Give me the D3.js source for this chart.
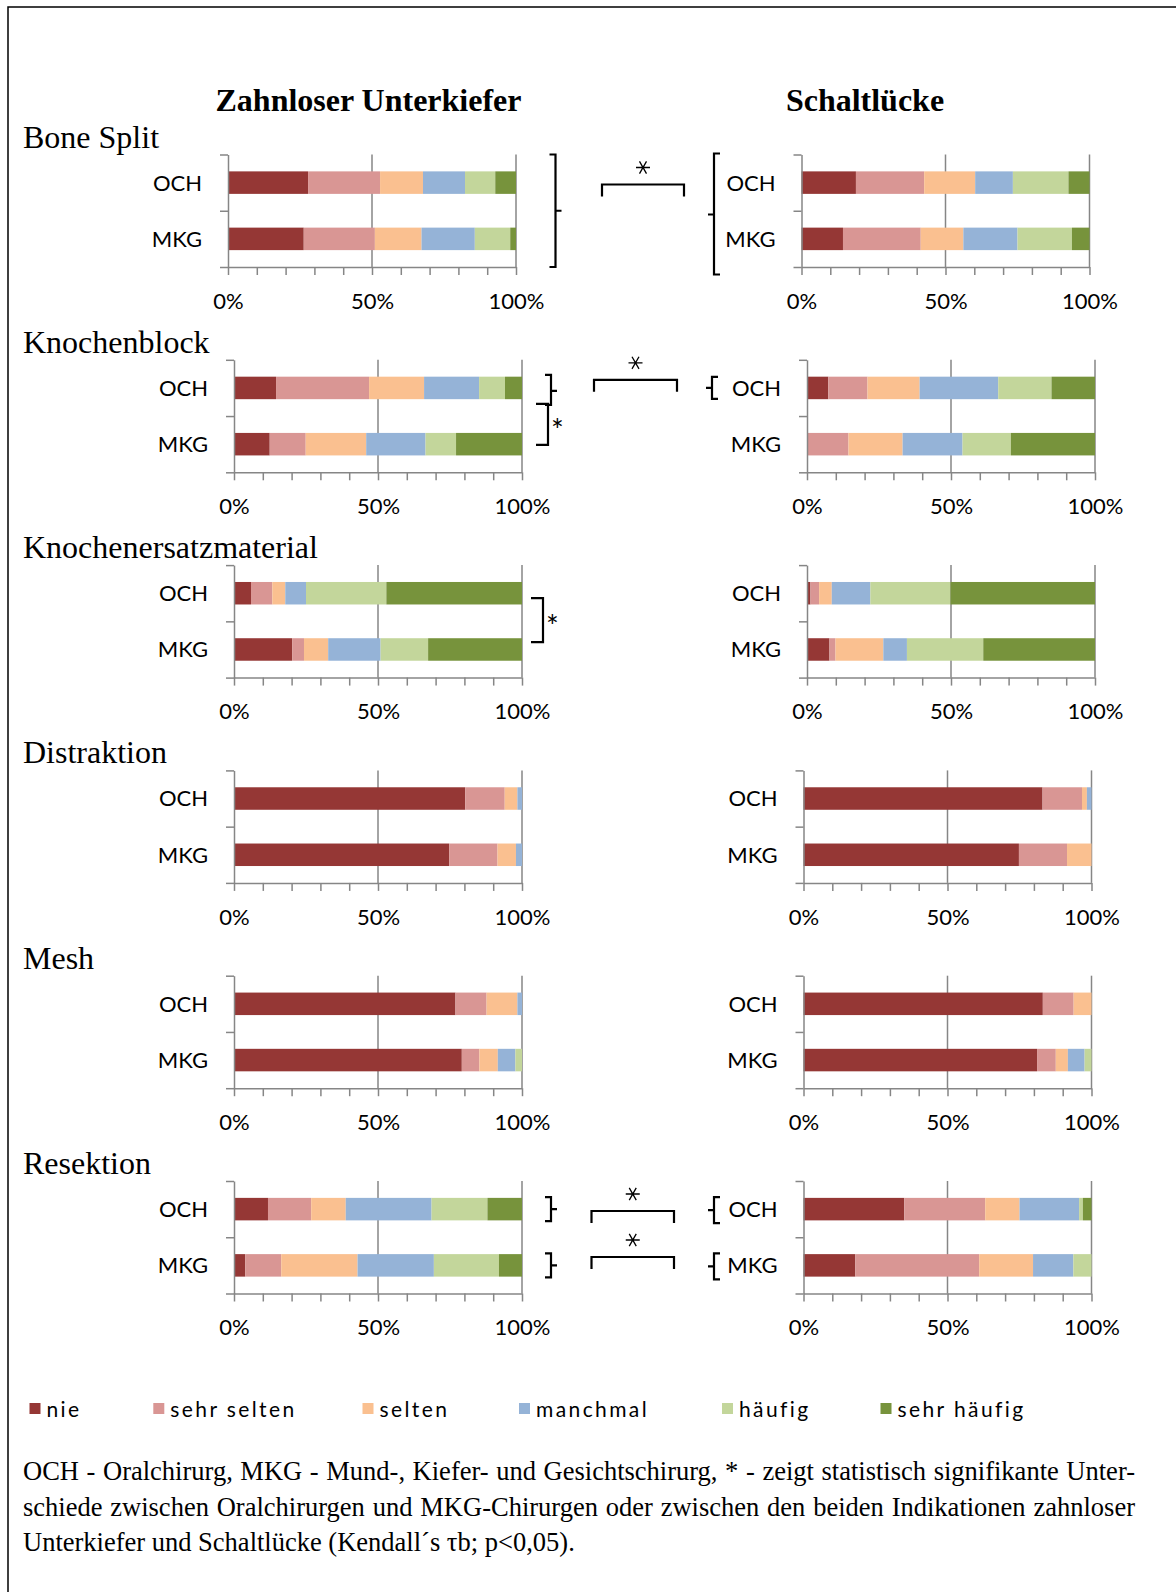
<!DOCTYPE html>
<html>
<head>
<meta charset="utf-8">
<script src="https://cdn.jsdelivr.net/npm/d3@7"></script>
<style>
  body { margin: 0; background: #fff; }
</style>
</head>
<body>
<svg id="chart" width="1176" height="1592"></svg>
<script>
// ---- data ----
const levels = ["nie", "sehr selten", "selten", "manchmal", "häufig", "sehr häufig"];
const groups = ["OCH", "MKG"];
const indications = ["Bone Split", "Knochenblock", "Knochenersatzmaterial", "Distraktion", "Mesh", "Resektion"];
const columns = ["Zahnloser Unterkiefer", "Schaltlücke"];
const tickLabels = [0, 0.5, 1];

// percentages per level (nie ... sehr häufig), one row per indication
const zahnlosOCH = [
  [27.8, 25.0, 14.9, 14.6, 10.5, 7.2],
  [14.6, 32.3, 19.1, 19.1, 9.0, 5.9],
  [5.9, 7.4, 4.5, 7.2, 27.9, 47.1],
  [80.3, 13.7, 4.4, 1.6, 0, 0],
  [76.9, 10.8, 10.7, 1.6, 0, 0],
  [11.8, 15.0, 12.0, 29.8, 19.4, 12.0]
];
const zahnlosMKG = [
  [26.3, 24.7, 16.2, 18.5, 12.3, 2.0],
  [12.4, 12.5, 21.0, 20.6, 10.6, 22.9],
  [20.2, 4.1, 8.4, 18.2, 16.5, 32.6],
  [74.7, 16.8, 6.4, 2.1, 0, 0],
  [79.1, 6.1, 6.4, 6.1, 2.3, 0],
  [3.9, 12.5, 26.5, 26.5, 22.6, 8.0]
];
const schaltOCH = [
  [18.9, 23.7, 17.7, 13.1, 19.3, 7.3],
  [7.4, 13.6, 18.1, 27.3, 18.5, 15.1],
  [1.2, 3.0, 4.4, 13.4, 27.8, 50.2],
  [83.0, 13.7, 1.7, 1.6, 0, 0],
  [83.1, 10.7, 6.2, 0, 0, 0],
  [35.0, 28.1, 11.9, 20.7, 1.3, 3.0]
];
const schaltMKG = [
  [14.4, 27.0, 14.8, 18.8, 18.9, 6.1],
  [0, 14.4, 18.8, 20.8, 16.8, 29.2],
  [7.8, 2.1, 16.6, 8.2, 26.5, 38.8],
  [74.8, 16.7, 8.5, 0, 0, 0],
  [81.1, 6.5, 4.2, 5.8, 2.4, 0],
  [18.0, 43.0, 18.7, 14.0, 6.3, 0]
];

const colors = ["#953735", "#d99694", "#fac090", "#95b3d7", "#c3d69b", "#77933c"];
const captionLines = [
  "OCH - Oralchirurg, MKG - Mund-, Kiefer- und Gesichtschirurg, * - zeigt statistisch signifikante Unter-",
  "schiede zwischen Oralchirurgen und MKG-Chirurgen oder zwischen den beiden Indikationen zahnloser",
  "Unterkiefer und Schaltlücke (Kendall´s τb; p<0,05)."
];

// ---- layout ----
const W = 1176, H = 1592;
const serif = "'Liberation Serif', 'Times New Roman', serif";
const sans = "Lato, Carlito, Calibri, sans-serif";
const axisCol = "#868686";
const plotW = 288, plotH = 112.5;
const rowTop = i => 154.5 + 205.3 * i;
const leftX0 = [228, 234, 234, 234, 234, 234];
const rightX0 = [801.5, 807, 807, 803.5, 803.5, 803.5];

const svg = d3.select("#chart");

// frame (cut off at right and bottom)
svg.append("path")
  .attr("d", `M8,${H} V7 H${W}`)
  .attr("fill", "none").attr("stroke", "#000").attr("stroke-width", 1.5);

// column titles
svg.selectAll("text.coltitle").data(columns).join("text")
  .attr("class", "coltitle")
  .attr("x", (d, i) => i ? 865 : 368.5)
  .attr("y", 110.5)
  .attr("text-anchor", "middle")
  .attr("font-family", serif).attr("font-weight", "bold").attr("font-size", 32)
  .text(d => d);

function drawPanel(g, x0, top, och, mkg) {
  const x = d3.scaleLinear().domain([0, 1]).range([x0, x0 + plotW]);
  const y = d3.scaleBand().domain(groups).range([top, top + plotH])
    .paddingInner(0.6).paddingOuter(0.3);
  const yAx = d3.scaleLinear().domain([0, groups.length]).range([top, top + plotH]);

  const rows = groups.map((grp, k) => {
    const o = { group: grp };
    levels.forEach((l, j) => { o[l] = (k ? mkg : och)[j]; });
    return o;
  });
  const series = d3.stack().keys(levels).offset(d3.stackOffsetExpand)(rows);

  // gridlines
  g.append("g").selectAll("line").data([0.5, 1]).join("line")
    .attr("x1", d => x(d)).attr("x2", d => x(d))
    .attr("y1", top).attr("y2", top + plotH)
    .attr("stroke", axisCol).attr("stroke-width", 1.5);

  // bars
  g.append("g").selectAll("g").data(series).join("g")
    .attr("fill", d => colors[d.index])
    .selectAll("rect").data(d => d).join("rect")
    .attr("x", d => x(d[0]))
    .attr("width", d => Math.max(0, x(d[1]) - x(d[0])))
    .attr("y", d => y(d.data.group))
    .attr("height", y.bandwidth());

  // x axis
  const xa = g.append("g")
    .attr("transform", `translate(0,${top + plotH})`)
    .call(d3.axisBottom(x)
      .tickValues(d3.range(0, 11).map(v => v / 10))
      .tickSize(8).tickSizeOuter(0)
      .tickFormat(d => tickLabels.some(v => Math.abs(v - d) < 1e-6) ? d3.format(".0%")(d) : ""));
  xa.select(".domain").attr("stroke", axisCol).attr("stroke-width", 1.5);
  xa.selectAll(".tick line").attr("stroke", axisCol).attr("stroke-width", 1.5);
  xa.selectAll(".tick text")
    .attr("y", 34).attr("dy", "0.35em")
    .attr("fill", "#000").attr("font-family", sans).attr("font-size", 22);

  // y axis (category boundaries)
  const ya = g.append("g")
    .attr("transform", `translate(${x0},0)`)
    .call(d3.axisLeft(yAx).tickValues([0, 1, 2]).tickSize(8).tickSizeOuter(0).tickFormat(""));
  ya.select(".domain").attr("stroke", axisCol).attr("stroke-width", 1.5);
  ya.selectAll(".tick line").attr("stroke", axisCol).attr("stroke-width", 1.5);

  // category labels
  g.append("g").selectAll("text").data(groups).join("text")
    .attr("x", x0 - 26)
    .attr("y", d => y(d) + y.bandwidth() / 2)
    .attr("dy", "0.36em")
    .attr("text-anchor", "end")
    .attr("font-family", sans).attr("font-size", 22)
    .text(d => d);

  return { x, y };
}

const panels = indications.map((name, i) => {
  const top = rowTop(i);
  const g = svg.append("g").attr("class", "row");
  g.append("text")
    .attr("x", 23).attr("y", top - 7)
    .attr("font-family", serif).attr("font-size", 32)
    .text(name);
  const L = drawPanel(g, leftX0[i], top, zahnlosOCH[i], zahnlosMKG[i]);
  const R = drawPanel(g, rightX0[i], top, schaltOCH[i], schaltMKG[i]);
  return { top, L, R };
});

// ---- significance marks ----
const ann = svg.append("g").attr("fill", "none").attr("stroke", "#000").attr("stroke-width", 2.2);

function braceRight(x, y1, y2, ym) {
  ann.append("path").attr("d", `M${x - 6},${y1} H${x} V${y2} H${x - 6} M${x},${ym} H${x + 6}`);
}
function braceLeft(x, y1, y2, ym) {
  ann.append("path").attr("d", `M${x + 6},${y1} H${x} V${y2} H${x + 6} M${x},${ym} H${x - 6}`);
}
function star(cx, cy, r) {
  const a = [0, 60, 120].map(d => d * Math.PI / 180);
  ann.append("path").attr("stroke-width", 1.3)
    .attr("d", a.map(t => `M${cx - r * Math.cos(t)},${cy - r * Math.sin(t)} L${cx + r * Math.cos(t)},${cy + r * Math.sin(t)}`).join(" "));
}
function sigBracket(x1, x2, yy) {
  ann.append("path").attr("d", `M${x1},${yy + 12} V${yy} H${x2} V${yy + 12}`);
  star((x1 + x2) / 2, yy - 17, 7);
}
function groupBracket(x, y1, y2) {
  ann.append("path").attr("d", `M${x - 12},${y1} H${x} V${y2} H${x - 12}`);
  svg.append("text").attr("x", x + 3).attr("y", (y1 + y2) / 2 + 17)
    .attr("font-family", sans).attr("font-size", 30).text("*");
}
function barMid(p, side, grp) {
  const s = p[side];
  return s.y(grp) + s.y.bandwidth() / 2;
}

// Bone Split
{
  const p = panels[0];
  const xr = p.L.x(1), xl = p.R.x(0);
  braceRight(xr + 39.5, p.top, p.top + plotH, p.top + plotH / 2);
  braceLeft(xl - 87.5, p.top - 1, p.top + 120, p.top + 60);
  sigBracket(602, 684, p.top + 30);
}
// Knochenblock
{
  const p = panels[1];
  const xr = p.L.x(1), xl = p.R.x(0);
  const m = barMid(p, "L", "OCH");
  braceRight(xr + 29, m - 13, m + 17, m + 3);
  groupBracket(xr + 26, p.top + 44, p.top + 85);
  sigBracket(594, 677, p.top + 20);
  const mr = barMid(p, "R", "OCH");
  braceLeft(xl - 95, mr - 11, mr + 11, mr);
}
// Knochenersatzmaterial
{
  const p = panels[2];
  groupBracket(p.L.x(1) + 21, p.top + 33, p.top + 77);
}
// Resektion
{
  const p = panels[5];
  const xr = p.L.x(1), xl = p.R.x(0);
  groups.forEach((grp, k) => {
    const m = barMid(p, "L", grp);
    braceRight(xr + 29, m - 12, m + 12, m);
    const mr = barMid(p, "R", grp);
    braceLeft(xl - 89.5, mr - 12, mr + 14, mr + 1);
    sigBracket(591.5, 674, p.top + (k ? 76 : 30));
  });
}

// ---- legend ----
const legendX = [29.5, 153.3, 362.5, 519, 722, 880.5];
const lg = svg.append("g").selectAll("g").data(levels).join("g")
  .attr("transform", (d, i) => `translate(${legendX[i]},1403)`);
lg.append("rect").attr("width", 11).attr("height", 11).attr("fill", (d, i) => colors[i]);
lg.append("text").attr("x", 17).attr("y", 14)
  .attr("font-family", sans).attr("font-size", 21).attr("letter-spacing", 2.4)
  .text(d => d);

// ---- caption ----
const capW = 1112;
captionLines.forEach((line, i) => {
  const t = svg.append("text")
    .attr("x", 23).attr("y", 1480 + 35.5 * i)
    .attr("font-family", serif).attr("font-size", 26.5)
    .text(line);
  if (i < captionLines.length - 1) {
    const len = t.node().getComputedTextLength();
    const spaces = line.split(" ").length - 1;
    t.attr("word-spacing", (capW - len) / spaces);
  }
});
</script>
</body>
</html>
